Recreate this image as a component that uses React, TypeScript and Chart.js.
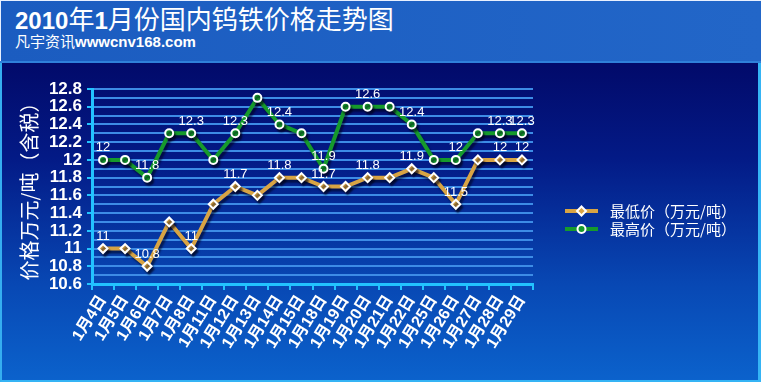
import React, { useEffect, useRef } from 'react';
import { Chart, registerables } from 'chart.js';

Chart.register(...registerables);

const categories = ['1月4日', '1月5日', '1月6日', '1月7日', '1月8日', '1月11日', '1月12日', '1月13日', '1月14日', '1月15日', '1月18日', '1月19日', '1月20日', '1月21日', '1月22日', '1月25日', '1月26日', '1月27日', '1月28日', '1月29日'];
const lowPrices = [11, 11, 10.8, 11.3, 11, 11.5, 11.7, 11.6, 11.8, 11.8, 11.7, 11.7, 11.8, 11.8, 11.9, 11.8, 11.5, 12, 12, 12];
const highPrices = [12, 12, 11.8, 12.3, 12.3, 12, 12.3, 12.7, 12.4, 12.3, 11.9, 12.6, 12.6, 12.6, 12.4, 12, 12, 12.3, 12.3, 12.3];
const seriesNames = ['最低价（万元/吨）', '最高价（万元/吨）'];
const labeledIndices = [0, 2, 4, 6, 8, 10, 12, 14, 16, 18, 19];
const yMin = 10.6;
const yMax = 12.8;
const yStep = 0.1;
const yAxisTitle = '价格万元/吨（含税）';
const titleYear = '2010';
const titleMonth = '1';
const titleText1 = '年';
const titleText2 = '月份国内钨铁价格走势图';
const subtitleCn = '凡宇资讯';
const subtitleUrl = 'wwwcnv168.com';

const LOW_COLOR = '#d8a444';
const HIGH_COLOR = '#169a2c';
const AXIS_COLOR = '#22c3ff';
const GRID_COLOR = '#3d8ce6';
const FONT = "'Liberation Sans', Arial, 'Noto Sans CJK SC', sans-serif";

function drawMarker(ctx: CanvasRenderingContext2D, x: number, y: number, style: string, color: string) {
  ctx.save();
  ctx.fillStyle = color;
  ctx.strokeStyle = '#ffffff';
  ctx.lineWidth = 2;
  ctx.beginPath();
  if (style === 'rectRot') {
    const r = 4.5;
    ctx.moveTo(x, y - r);
    ctx.lineTo(x + r, y);
    ctx.lineTo(x, y + r);
    ctx.lineTo(x - r, y);
    ctx.closePath();
  } else {
    ctx.arc(x, y, 4, 0, Math.PI * 2);
  }
  ctx.fill();
  ctx.stroke();
  ctx.restore();
}

const shadowPlugin = {
  id: 'lineShadow',
  beforeDatasetsDraw(chart: any) {
    const ctx = chart.ctx;
    ctx.save();
    ctx.shadowColor = 'rgba(0, 0, 20, 0.55)';
    ctx.shadowOffsetX = 2;
    ctx.shadowOffsetY = 3;
    ctx.shadowBlur = 2;
  },
  afterDatasetsDraw(chart: any) {
    const ctx = chart.ctx;
    ctx.restore();
    ctx.save();
    ctx.fillStyle = '#ffffff';
    ctx.font = `13px ${FONT}`;
    ctx.textAlign = 'center';
    ctx.textBaseline = 'middle';
    chart.data.datasets.forEach((ds: any, di: number) => {
      const meta = chart.getDatasetMeta(di);
      labeledIndices.forEach((idx) => {
        const el = meta.data[idx];
        if (!el) return;
        ctx.fillText(String(ds.data[idx]), el.x, el.y - 12);
      });
    });
    ctx.restore();
  },
};

const legendPlugin = {
  id: 'customLegend',
  afterDraw(chart: any) {
    const { ctx, chartArea } = chart;
    const x0 = chartArea.right + 32;
    chart.data.datasets.forEach((ds: any, i: number) => {
      const y = chartArea.top + 122 + i * 18;
      ctx.save();
      ctx.strokeStyle = ds.borderColor;
      ctx.lineWidth = 4;
      ctx.beginPath();
      ctx.moveTo(x0, y);
      ctx.lineTo(x0 + 33, y);
      ctx.stroke();
      ctx.restore();
      drawMarker(ctx, x0 + 16.5, y, ds.pointStyle, ds.borderColor);
      ctx.save();
      ctx.fillStyle = '#ffffff';
      ctx.font = `15px 'Noto Sans CJK SC', sans-serif`;
      ctx.textAlign = 'left';
      ctx.textBaseline = 'middle';
      ctx.fillText(ds.label, x0 + 45, y);
      ctx.restore();
    });
  },
};

function ChartCanvas() {
  const ref = useRef<HTMLCanvasElement | null>(null);
  useEffect(() => {
    if (!ref.current) return;
    const chart = new Chart(ref.current, {
      type: 'line',
      data: {
        labels: categories,
        datasets: [
          {
            label: seriesNames[0],
            data: lowPrices,
            borderColor: LOW_COLOR,
            backgroundColor: LOW_COLOR,
            borderWidth: 4,
            pointStyle: 'rectRot',
            pointRadius: 4.5,
            pointBorderWidth: 2,
            pointBorderColor: '#ffffff',
            pointBackgroundColor: LOW_COLOR,
            tension: 0,
          },
          {
            label: seriesNames[1],
            data: highPrices,
            borderColor: HIGH_COLOR,
            backgroundColor: HIGH_COLOR,
            borderWidth: 4,
            pointStyle: 'circle',
            pointRadius: 4,
            pointBorderWidth: 2,
            pointBorderColor: '#ffffff',
            pointBackgroundColor: HIGH_COLOR,
            tension: 0,
          },
        ],
      },
      options: {
        responsive: false,
        animation: false,
        events: [],
        layout: { padding: { top: 27, left: 0, right: 228, bottom: 0 } },
        plugins: {
          legend: { display: false },
          tooltip: { enabled: false },
          title: { display: false },
        },
        scales: {
          x: {
            type: 'category',
            offset: true,
            afterFit: (scale: any) => { scale.height = 98; },
            grid: {
              display: true,
              drawOnChartArea: false,
              drawTicks: true,
              tickLength: 6,
              tickColor: AXIS_COLOR,
              lineWidth: 2,
              offset: true,
            },
            border: { display: true, color: AXIS_COLOR, width: 3 },
            ticks: {
              color: '#ffffff',
              font: { family: FONT, size: 16, weight: 'bold' },
              minRotation: 58,
              maxRotation: 58,
              autoSkip: false,
              padding: 2,
            },
          },
          y: {
            type: 'linear',
            min: yMin,
            max: yMax,
            afterFit: (scale: any) => { scale.width = 92; },
            title: {
              display: true,
              text: yAxisTitle,
              color: '#ffffff',
              font: { family: "'Noto Sans CJK SC', sans-serif", size: 20, weight: 'normal' },
              padding: { top: 17, bottom: 0 },
            },
            grid: {
              color: GRID_COLOR,
              lineWidth: 2,
              drawTicks: true,
              tickLength: 5,
              tickColor: (c: any) => (c.index % 2 === 0 ? AXIS_COLOR : 'rgba(0,0,0,0)'),
            },
            border: { display: true, color: AXIS_COLOR, width: 3 },
            ticks: {
              stepSize: yStep,
              autoSkip: false,
              color: '#ffffff',
              padding: 5,
              font: { family: FONT, size: 17, weight: 'bold' },
              callback: (value: any, index: number) => (index % 2 === 0 ? String(Number(Number(value).toFixed(1))) : ''),
            },
          },
        },
      },
      plugins: [shadowPlugin, legendPlugin],
    } as any);
    return () => chart.destroy();
  }, []);
  return <canvas ref={ref} width={761} height={320} style={{ position: 'absolute', left: 0, top: 62, width: 761, height: 320 }} />;
}

export default function App() {
  useEffect(() => {
    document.body.style.margin = '0';
  }, []);
  return (
    <div style={{ position: 'relative', width: 761, height: 382, overflow: 'hidden', fontFamily: FONT }}>
      <div style={{ position: 'absolute', left: 0, top: 0, width: 761, height: 61, background: 'linear-gradient(90deg, #1b5cc0 0%, #2266c8 100%)', borderTop: '1px solid #e8f0ff', borderLeft: '1px solid #e8f0ff', boxSizing: 'border-box' }} />
      <div style={{ position: 'absolute', left: 0, top: 61, width: 761, height: 2, background: '#2f80da' }} />
      <div style={{ position: 'absolute', left: 0, top: 63, width: 761, height: 319, background: 'linear-gradient(180deg, #020a6a 0%, #031a86 30%, #0848b4 70%, #0b62cc 100%)', borderLeft: '2px solid #35aef0', borderRight: '3px solid #35b4f5', borderBottom: '2px solid #35b4f5', boxSizing: 'border-box' }} />
      <div style={{ position: 'absolute', left: 15, top: 5, color: '#ffffff', lineHeight: 1, whiteSpace: 'nowrap' }}>
        <span style={{ fontWeight: 'bold', fontSize: 24 }}>{titleYear}</span>
        <span style={{ fontSize: 26, fontFamily: "'Noto Sans CJK SC', sans-serif" }}>{titleText1}</span>
        <span style={{ fontWeight: 'bold', fontSize: 24 }}>{titleMonth}</span>
        <span style={{ fontSize: 26, fontFamily: "'Noto Sans CJK SC', sans-serif" }}>{titleText2}</span>
      </div>
      <div style={{ position: 'absolute', left: 15, top: 33, color: '#ffffff', lineHeight: 1, whiteSpace: 'nowrap' }}>
        <span style={{ fontSize: 15, fontFamily: "'Noto Sans CJK SC', sans-serif" }}>{subtitleCn}</span>
        <span style={{ fontSize: 15, fontWeight: 'bold' }}>{subtitleUrl}</span>
      </div>
      <ChartCanvas />
    </div>
  );
}
